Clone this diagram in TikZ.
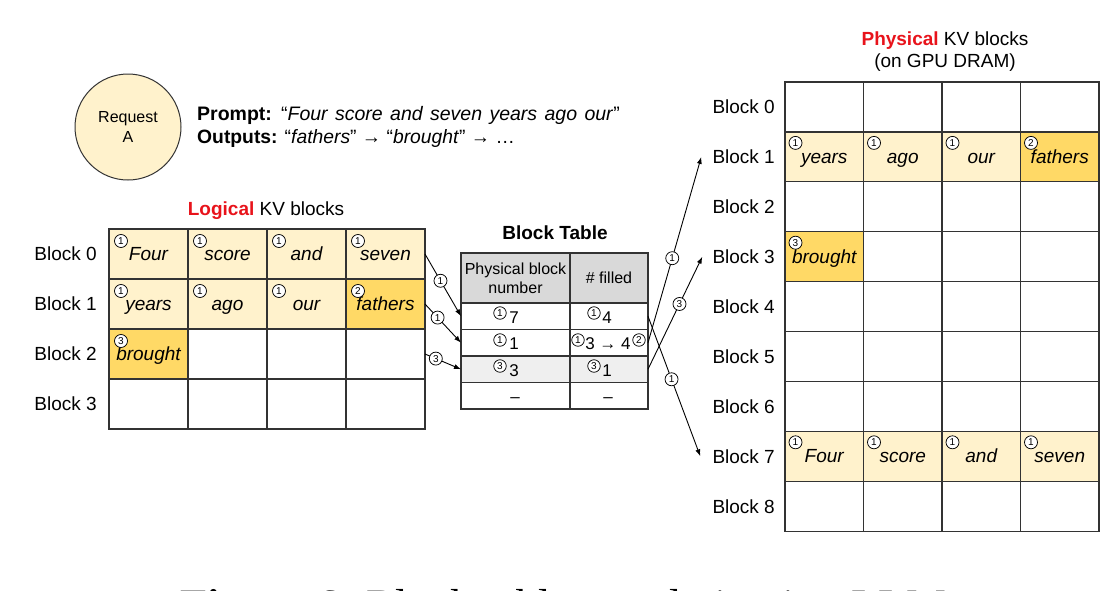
\documentclass[tikz,border=0pt]{standalone}
\usepackage{fontspec}
\setmainfont{Liberation Sans}
\newfontfamily\capfont{Liberation Serif}
\usetikzlibrary{calc,arrows.meta}
\definecolor{ylight}{HTML}{FFF2CC}
\definecolor{ydark}{HTML}{FFD966}
\definecolor{gridc}{HTML}{333333}
\definecolor{hdrgrey}{HTML}{D9D9D9}
\definecolor{rowgrey}{HTML}{EFEFEF}
\definecolor{titlered}{HTML}{E8131B}
\begin{document}
\begin{tikzpicture}[x=1pt,y=-1pt,
 lc/.style={draw=gridc, line width=1.2pt, minimum width=79pt, minimum height=50pt, inner sep=0pt, outer sep=0pt, anchor=north west, font=\fontsize{19}{22}\selectfont\itshape, text height=14.3pt, text depth=1.3pt},
 pc/.style={lc, minimum width=78.5pt, minimum height=49.9pt},
 mk/.style={circle, draw=black, line width=0.75pt, fill=white, inner sep=0pt, minimum size=13pt, font=\fontsize{10}{10}\selectfont},
 tmk/.style={mk, minimum size=12.5pt},
 blab/.style={anchor=east, inner sep=0pt, font=\fontsize{19}{22}\selectfont},
 tc/.style={draw=gridc, line width=1.2pt, inner sep=0pt, outer sep=0pt, anchor=north west, minimum height=26.5pt, fill=white},
 tt/.style={inner sep=0pt, font=\fontsize{17}{20}\selectfont, text height=12.2pt, text depth=0pt},
 conn/.style={line width=0.9pt, -{Latex[length=7pt,width=5pt]}},
]
\useasboundingbox (0,0) rectangle (1114,590);

% Request and prompt
\node[circle, draw=gridc, line width=1pt, fill=ylight, minimum size=106pt, align=center, font=\fontsize{16}{20}\selectfont] (req) at (128,127) {Request\\A};
\node[anchor=base west, inner sep=0pt, font=\fontsize{19.5}{22}\selectfont] (prompt) at (197,120) {\spaceskip=7.4pt plus 1pt\textbf{Prompt:} “\textit{Four score and seven years ago our}”};
\node[anchor=base west, inner sep=0pt, font=\fontsize{19.3}{22}\selectfont] (outputs) at (197,143) {\textbf{Outputs:} “\textit{fathers}” → “\textit{brought}” → …};

% Logical KV blocks
\node[font=\fontsize{19}{22}\selectfont] (ltitle) at (266,211) {\textcolor{titlered}{\textbf{Logical}} KV blocks};
\foreach \r in {0,...,3}{
  \foreach \c in {0,...,3}{
    \node[lc, fill=white] (L\r\c) at ({109+79*\c},{229+50*\r}) {};
  }
  \node[blab] (LL\r) at (97,{254+50*\r}) {Block \r};
}
\foreach \r/\c/\w/\n/\f in {0/0/Four/1/ylight,0/1/score/1/ylight,0/2/and/1/ylight,0/3/seven/1/ylight,1/0/years/1/ylight,1/1/ago/1/ylight,1/2/our/1/ylight,1/3/fathers/2/ydark,2/0/brought/3/ydark}{
  \node[lc, fill=\f] (L\r\c) at ({109+79*\c},{229+50*\r}) {\w};
  \node[mk] (Lm\r\c) at ($(L\r\c.north west)+(12,12)$) {\n};
}

% Physical KV blocks
\node[align=center, font=\fontsize{19}{22}\selectfont] (ptitle) at (945,52) {\textcolor{titlered}{\textbf{Physical}} KV blocks\\(on GPU DRAM)};
\foreach \r in {0,...,8}{
  \foreach \c in {0,...,3}{
    \node[pc, fill=white] (P\r\c) at ({785+78.5*\c},{82+49.9*\r}) {};
  }
  \node[blab] (PL\r) at (775,{107+49.9*\r}) {Block \r};
}
\foreach \r/\c/\w/\n/\f in {1/0/years/1/ylight,1/1/ago/1/ylight,1/2/our/1/ylight,1/3/fathers/2/ydark,3/0/brought/3/ydark,7/0/Four/1/ylight,7/1/score/1/ylight,7/2/and/1/ylight,7/3/seven/1/ylight}{
  \node[pc, fill=\f] (P\r\c) at ({785+78.5*\c},{82+49.9*\r}) {\w};
  \node[mk] (Pm\r\c) at ($(P\r\c.north west)+(10.5,11)$) {\n};
}

% Block table
\node[font=\bfseries\fontsize{19}{22}\selectfont] (btitle) at (555,233) {Block Table};
\node[tc, fill=hdrgrey, minimum width=109pt, minimum height=50pt, align=center, font=\fontsize{16}{19}\selectfont] (TH1) at (461,253) {Physical block\\number};
\node[tc, fill=hdrgrey, minimum width=78pt, minimum height=50pt, font=\fontsize{16}{19}\selectfont] (TH2) at (570,253) {\# filled};
\node[tc, minimum width=109pt] (B1a) at (461,303) {};
\node[tc, minimum width=78pt] (B1b) at (570,303) {};
\node[tc, minimum width=109pt] (B2a) at (461,329.5) {};
\node[tc, minimum width=78pt] (B2b) at (570,329.5) {};
\node[tc, fill=rowgrey, minimum width=109pt] (B3a) at (461,356) {};
\node[tc, fill=rowgrey, minimum width=78pt] (B3b) at (570,356) {};
\node[tc, minimum width=109pt] (B4a) at (461,382.5) {};
\node[tc, minimum width=78pt] (B4b) at (570,382.5) {};

\node[tt] (t1a) at (514,317) {7};
\node[tmk] (m1a) at (500,313) {1};
\node[tt] (t1b) at (607,317) {4};
\node[tmk] (m1b) at (594,313) {1};
\node[tt] (t2a) at (514,343.5) {1};
\node[tmk] (m2a) at (500,340) {1};
\node[tt] (t2b) at (608,343.5) {3 → 4};
\node[tmk] (m2b) at (578,340) {1};
\node[tmk] (m2c) at (639,340) {2};
\node[tt] (t3a) at (514,370) {3};
\node[tmk] (m3a) at (500,366) {3};
\node[tt] (t3b) at (607,370) {1};
\node[tmk] (m3b) at (594,366) {3};
\node[tt] (t4a) at (515,396) {–};
\node[tt] (t4b) at (608,396) {–};

% Connectors
\draw[conn] (L03.east) -- node[mk,pos=.43] (c1) {1} (B1a.west);
\draw[conn] (L13.east) -- node[mk,pos=.35] (c2) {1} (B2a.west);
\draw[conn] (L23.east) -- node[mk,pos=.3] (c3) {3} (B3a.west);
\draw[conn] (B1b.east) -- node[mk,pos=.45] (c4) {1} ([xshift=-12pt]PL7.west);
\draw[conn] (B2b.east) -- node[mk,pos=.455] (c5) {1} ([xshift=-11pt]PL1.west);
\draw[conn] (B3b.east) -- node[mk,pos=.58] (c6) {3} ([xshift=-10pt]PL3.west);

% Caption (cut off at the bottom edge, as in the reference)
\node[anchor=base west, inner sep=0pt, font=\capfont\fontsize{44.8}{50}\selectfont] (cap) at (180,620.5) {\textbf{Figure 6.} Block table translation in vLLM};
\end{tikzpicture}
\end{document}
